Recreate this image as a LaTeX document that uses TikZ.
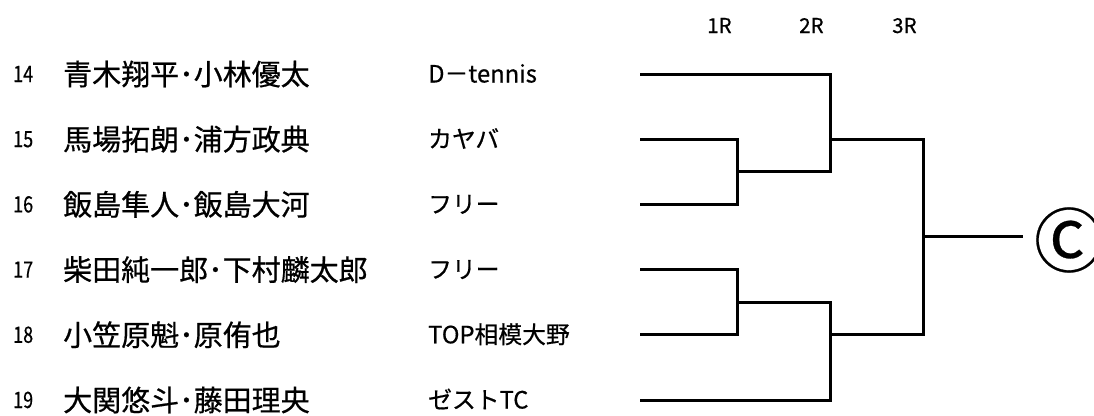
\documentclass[tikz,border=0pt]{standalone}
\usepackage{fontspec}
\setmainfont{Noto Sans CJK JP}
\newfontfamily\jpbold[FakeBold=0.6]{Noto Sans CJK JP}
\newfontfamily\numf[FakeStretch=0.8,FakeBold=0.4]{Noto Sans CJK JP}
\newfontfamily\symf[FakeBold=0.4]{Noto Sans CJK JP}
\begin{document}
\begin{tikzpicture}[x=1pt,y=-1pt,
  num/.style={anchor=base west, inner sep=0, font=\numf\fontsize{22.5}{22.5}\selectfont},
  pname/.style={anchor=base west, inner sep=0, font=\jpbold\fontsize{29}{29}\selectfont},
  club/.style={anchor=base west, inner sep=0, font=\jpbold\fontsize{23.8}{24}\selectfont},
  rnd/.style={anchor=base west, inner sep=0, font=\jpbold\fontsize{20.5}{20.5}\selectfont},
  br/.style={line width=3pt, line join=miter}]
\useasboundingbox (0,0) rectangle (1094,415);
% round headers
\node[rnd] (h1) at (707,33) {1R};
\node[rnd] (h2) at (799,33) {2R};
\node[rnd] (h3) at (892,33) {3R};
% entries
\foreach \i/\n/\c [count=\k from 0] in {
  14/青木翔平･小林優太/D－tennis,
  15/馬場拓朗･浦方政典/カヤバ,
  16/飯島隼人･飯島大河/フリー,
  17/柴田純一郎･下村麟太郎/フリー,
  18/小笠原魁･原侑也/TOP相模大野,
  19/大関悠斗･藤田理央/ゼストTC}{
  \pgfmathsetmacro\yy{74+65.2*\k}
  \node[num] (num\i) at (13,\yy+8) {\i};
  \node[pname] (nm\i) at (63,\yy+11) {\n};
  \node[club] (cl\i) at (428,\yy+8.5) {\c};
  \coordinate (p\i) at (640,\yy);
}
% junctions
\coordinate (a1) at (737,171.6);
\coordinate (a2) at (737,302);
\coordinate (b1) at (830,139.2);
\coordinate (b2) at (830,334.4);
\coordinate (c)  at (923,236.8);
\coordinate (w)  at (1023,236.8);
\node[inner sep=0, font=\symf\fontsize{70}{70}\selectfont] (win) at (1069,240) {Ⓒ};
% bracket
\draw[br] (p15) -| (a1);
\draw[br] (p16) -| (a1);
\draw[br] (p17) -| (a2);
\draw[br] (p18) -| (a2);
\draw[br] (p14) -| (b1);
\draw[br] (a1) -| (b1);
\draw[br] (a2) -| (b2);
\draw[br] (p19) -| (b2);
\draw[br] (b1) -| (c);
\draw[br] (b2) -| (c);
\draw[br] (c) -- (w);
\end{tikzpicture}
\end{document}
